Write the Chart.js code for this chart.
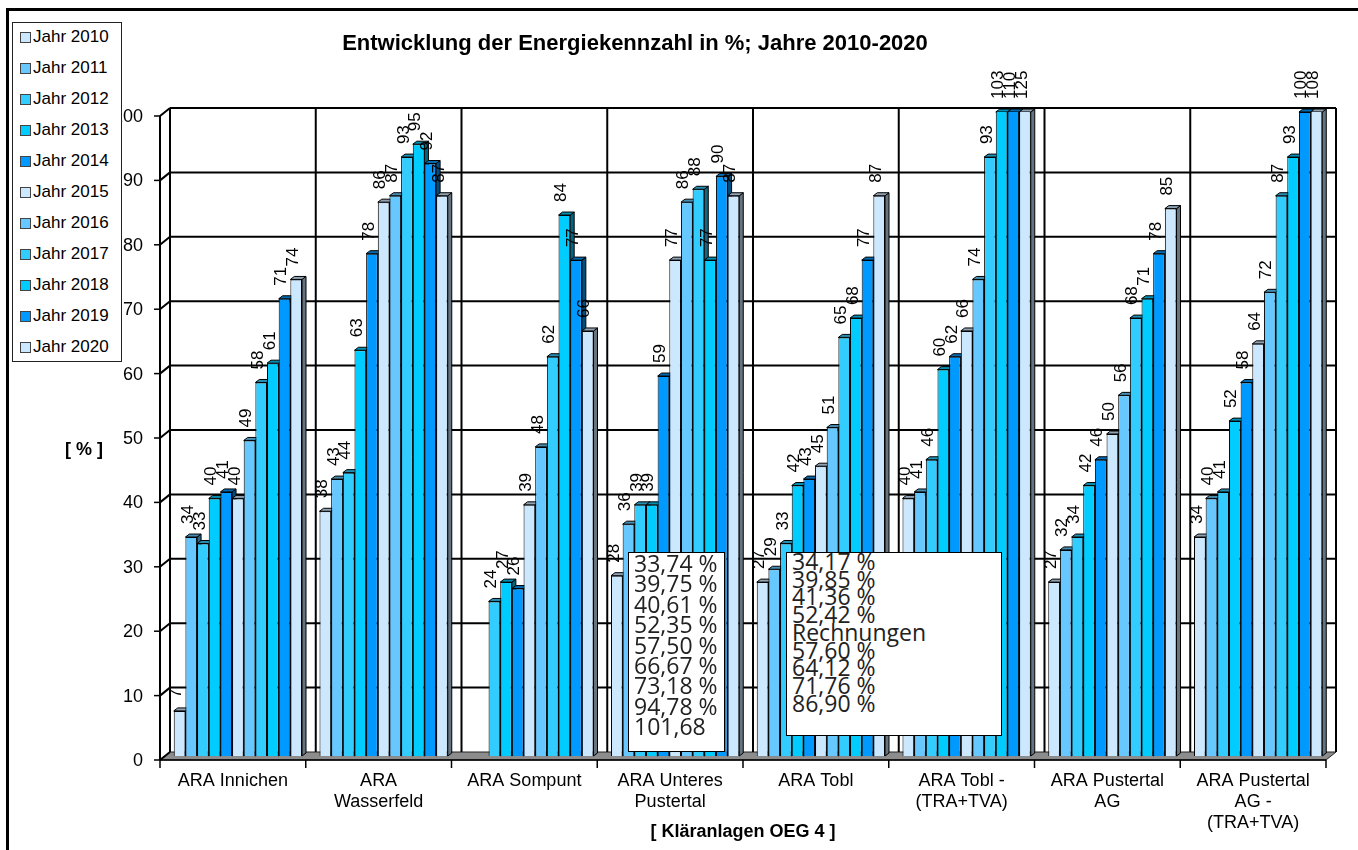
<!DOCTYPE html>
<html>
<head>
<meta charset="utf-8">
<script src="https://cdn.jsdelivr.net/npm/chart.js@4.4.1/dist/chart.umd.min.js"></script>
<style>
    body { margin: 0; background: #fff; }
    #wrap { position: relative; width: 1358px; height: 850px; overflow: hidden; background: #fff; }
    #chart { position: absolute; left: 0; top: 0; }
    #frame { position: absolute; left: 6px; top: 8px; width: 1400px; height: 900px; border-left: 3px solid #000; border-top: 3px solid #000; }
    #legend { position: absolute; left: 12px; top: 22px; width: 108px; height: 338px; border: 1px solid #222; background: #fff; font-family: Arial, "Liberation Sans", sans-serif; font-size: 17px; }
    #legend .item { position: absolute; left: 0; height: 20px; line-height: 20px; white-space: nowrap; }
    #legend .box { position: absolute; left: 7px; top: 5px; width: 9px; height: 9px; border: 1px solid #444; }
    #legend .txt { position: absolute; left: 20px; top: 0; }
    .note { position: absolute; background: #fff; border: 1px solid #000; font-family: "Open Sans", sans-serif; font-size: 23px; color: #222; white-space: pre; padding-left: 5px; box-sizing: border-box; overflow: hidden; }
    #note1 { left: 628px; top: 552px; width: 97px; height: 200px; line-height: 20.4px; }
    #note2 { left: 786px; top: 552px; width: 216px; height: 184px; line-height: 17.7px; }
</style>
</head>
<body>
<div id="wrap">
    <canvas id="chart" width="1358" height="850"></canvas>
    <div id="frame"></div>
    <div id="legend"></div>
    <div class="note" id="note1"></div>
    <div class="note" id="note2"></div>
</div>
<script>
const categories = [
    'ARA Innichen',
    ['ARA', 'Wasserfeld'],
    'ARA Sompunt',
    ['ARA Unteres', 'Pustertal'],
    'ARA Tobl',
    ['ARA Tobl -', '(TRA+TVA)'],
    ['ARA Pustertal', 'AG'],
    ['ARA Pustertal', 'AG -', '(TRA+TVA)']
];

const years = ['Jahr 2010', 'Jahr 2011', 'Jahr 2012', 'Jahr 2013', 'Jahr 2014', 'Jahr 2015',
               'Jahr 2016', 'Jahr 2017', 'Jahr 2018', 'Jahr 2019', 'Jahr 2020'];

const y2010 = [7, 38, null, 28, 27, 40, 27, 34];
const y2011 = [34, 43, null, 36, 29, 41, 32, 40];
const y2012 = [33, 44, 24, 39, 33, 46, 34, 41];
const y2013 = [40, 63, 27, 39, 42, 60, 42, 52];
const y2014 = [41, 78, 26, 59, 43, 62, 46, 58];
const y2015 = [40, 86, 39, 77, 45, 66, 50, 64];
const y2016 = [49, 87, 48, 86, 51, 74, 56, 72];
const y2017 = [58, 93, 62, 88, 65, 93, 68, 87];
const y2018 = [61, 95, 84, 77, 68, 103, 71, 93];
const y2019 = [71, 92, 77, 90, 77, 110, 78, 100];
const y2020 = [74, 87, 66, 87, 87, 125, 85, 108];

const colors = ['#CCE8FF', '#66C8FF', '#33CCFF', '#00CCFF', '#0099FF', '#CCE8FF',
                '#66C8FF', '#33CCFF', '#00CCFF', '#0099FF', '#CCE8FF'];

const yTicks = [0, 10, 20, 30, 40, 50, 60, 70, 80, 90, 100];

const note1Lines = ['33,74 %', '39,75 %', '40,61 %', '52,35 %', '57,50 %', '66,67 %', '73,18 %', '94,78 %', '101,68'];
const note2Lines = ['34,17 %', '39,85 %', '41,36 %', '52,42 %', 'Rechnungen', '57,60 %', '64,12 %', '71,76 %', '86,90 %'];

const seriesValues = [y2010, y2011, y2012, y2013, y2014, y2015, y2016, y2017, y2018, y2019, y2020];

// wall depth: front = mid + (-5, +4), back = mid + (5, -4)
const WX = 5, WY = 4;
// bar depth
const BX = 4, BY = 3;

function shade(hex, f) {
    const n = parseInt(hex.slice(1), 16);
    const r = Math.round(((n >> 16) & 255) * f);
    const g = Math.round(((n >> 8) & 255) * f);
    const b = Math.round((n & 255) * f);
    return `rgb(${r},${g},${b})`;
}

function line(ctx, x1, y1, x2, y2) {
    ctx.beginPath();
    ctx.moveTo(x1, y1);
    ctx.lineTo(x2, y2);
    ctx.stroke();
}

const wallsPlugin = {
    id: 'walls',
    beforeDatasetsDraw(chart) {
        const ctx = chart.ctx;
        const a = chart.chartArea;
        const xs = chart.scales.x;
        const ys = chart.scales.y;
        const y0 = ys.getPixelForValue(0);
        const yTop = ys.getPixelForValue(100);
        const cw = (a.right - a.left) / categories.length;

        ctx.save();
        // floor
        ctx.fillStyle = '#8c8c8c';
        ctx.strokeStyle = '#222';
        ctx.lineWidth = 1;
        ctx.beginPath();
        ctx.moveTo(a.left - WX, y0 + WY);
        ctx.lineTo(a.right - WX, y0 + WY);
        ctx.lineTo(a.right + WX, y0 - WY);
        ctx.lineTo(a.left + WX, y0 - WY);
        ctx.closePath();
        ctx.fill();
        ctx.stroke();

        // back wall grid
        ctx.strokeStyle = '#000';
        ctx.lineWidth = 2;
        yTicks.forEach(v => {
            const y = ys.getPixelForValue(v);
            if (v > 0) line(ctx, a.left + WX, y - WY, a.right + WX, y - WY);
            line(ctx, a.left - WX, y + WY, a.left + WX, y - WY);
        });
        for (let i = 0; i <= categories.length; i++) {
            const x = a.left + i * cw + WX;
            line(ctx, x, yTop - WY, x, y0 - WY);
        }
        // left side wall edges
        line(ctx, a.left - WX, yTop + WY, a.left - WX, y0 + WY);

        // y axis ticks + labels (front)
        ctx.lineWidth = 1.5;
        ctx.fillStyle = '#000';
        ctx.font = '18px Arial, "Liberation Sans", sans-serif';
        ctx.textAlign = 'right';
        ctx.textBaseline = 'middle';
        yTicks.forEach(v => {
            const y = ys.getPixelForValue(v) + WY;
            line(ctx, a.left - WX - 6, y, a.left - WX, y);
            ctx.fillText(String(v), a.left - WX - 17, y + 1);
        });

        // x axis line, ticks, labels (front)
        line(ctx, a.left - WX, y0 + WY, a.right - WX, y0 + WY);
        ctx.textAlign = 'center';
        for (let i = 0; i <= categories.length; i++) {
            const x = a.left + i * cw - WX;
            line(ctx, x, y0 + WY, x, y0 + WY + 8);
        }
        categories.forEach((c, i) => {
            const x = xs.getPixelForValue(i) - WX;
            const lines = Array.isArray(c) ? c : [c];
            lines.forEach((t, k) => ctx.fillText(t, x, y0 + WY + 21 + k * 21));
        });

        // titles
        ctx.font = 'bold 22px Arial, "Liberation Sans", sans-serif';
        ctx.fillText('Entwicklung der Energiekennzahl in %; Jahre 2010-2020', 635, 44);
        ctx.font = 'bold 18px Arial, "Liberation Sans", sans-serif';
        ctx.fillText('[ Kläranlagen OEG 4 ]', (a.left + a.right) / 2 - WX, 832);
        ctx.fillText('[ % ]', 84, 450);

        // bar depth faces
        chart.data.datasets.forEach((ds, di) => {
            const meta = chart.getDatasetMeta(di);
            meta.data.forEach((el, i) => {
                const v = ds.data[i];
                if (v === null || v === undefined) return;
                const p = el.getProps(['x', 'width', 'base'], true);
                const top = ys.getPixelForValue(Math.min(v, 100));
                const l = p.x - p.width / 2;
                const r = p.x + p.width / 2;
                ctx.lineWidth = 1;
                ctx.strokeStyle = '#000';
                // side
                ctx.fillStyle = shade(ds.backgroundColor, 0.5);
                ctx.beginPath();
                ctx.moveTo(r, top);
                ctx.lineTo(r + BX, top - BY);
                ctx.lineTo(r + BX, p.base - BY);
                ctx.lineTo(r, p.base);
                ctx.closePath();
                ctx.fill();
                ctx.stroke();
                // top
                ctx.fillStyle = shade(ds.backgroundColor, 0.7);
                ctx.beginPath();
                ctx.moveTo(l, top);
                ctx.lineTo(r, top);
                ctx.lineTo(r + BX, top - BY);
                ctx.lineTo(l + BX, top - BY);
                ctx.closePath();
                ctx.fill();
                ctx.stroke();
            });
        });
        ctx.restore();
    },
    afterDatasetsDraw(chart) {
        const ctx = chart.ctx;
        const ys = chart.scales.y;
        ctx.save();
        ctx.fillStyle = '#000';
        ctx.font = '17px Arial, "Liberation Sans", sans-serif';
        ctx.textAlign = 'left';
        ctx.textBaseline = 'middle';
        chart.data.datasets.forEach((ds, di) => {
            const meta = chart.getDatasetMeta(di);
            meta.data.forEach((el, i) => {
                const v = ds.data[i];
                if (v === null || v === undefined) return;
                const top = ys.getPixelForValue(Math.min(v, 100));
                ctx.save();
                ctx.translate(el.x - 3, top - 13);
                ctx.rotate(-Math.PI / 2);
                ctx.fillText(String(v), 0, 0);
                ctx.restore();
            });
        });
        ctx.restore();
    }
};

const datasets = years.map((name, i) => ({
    label: name,
    data: seriesValues[i],
    backgroundColor: colors[i],
    borderColor: '#000',
    borderWidth: 1,
    clip: 0
}));

const chart = new Chart(document.getElementById('chart'), {
    type: 'bar',
    data: { labels: categories, datasets: datasets },
    options: {
        responsive: false,
        animation: false,
        devicePixelRatio: 1,
        layout: { padding: { left: 165, right: 27, top: 112, bottom: 94 } },
        datasets: { bar: { categoryPercentage: 0.88, barPercentage: 1.0 } },
        plugins: { legend: { display: false }, title: { display: false }, tooltip: { enabled: false } },
        scales: {
            x: { display: false },
            y: { display: false, min: 0, max: 100, ticks: { stepSize: 10 } }
        }
    },
    plugins: [wallsPlugin]
});

// legend in a box on top of the chart
const legendEl = document.getElementById('legend');
chart.data.datasets.forEach((ds, i) => {
    const item = document.createElement('div');
    item.className = 'item';
    item.style.top = (4 + i * 31) + 'px';
    item.innerHTML = `<span class="box" style="background:${ds.backgroundColor}"></span><span class="txt">${ds.label}</span>`;
    legendEl.appendChild(item);
});

document.getElementById('note1').textContent = note1Lines.join('\n');
document.getElementById('note2').textContent = note2Lines.join('\n');
</script>
</body>
</html>
